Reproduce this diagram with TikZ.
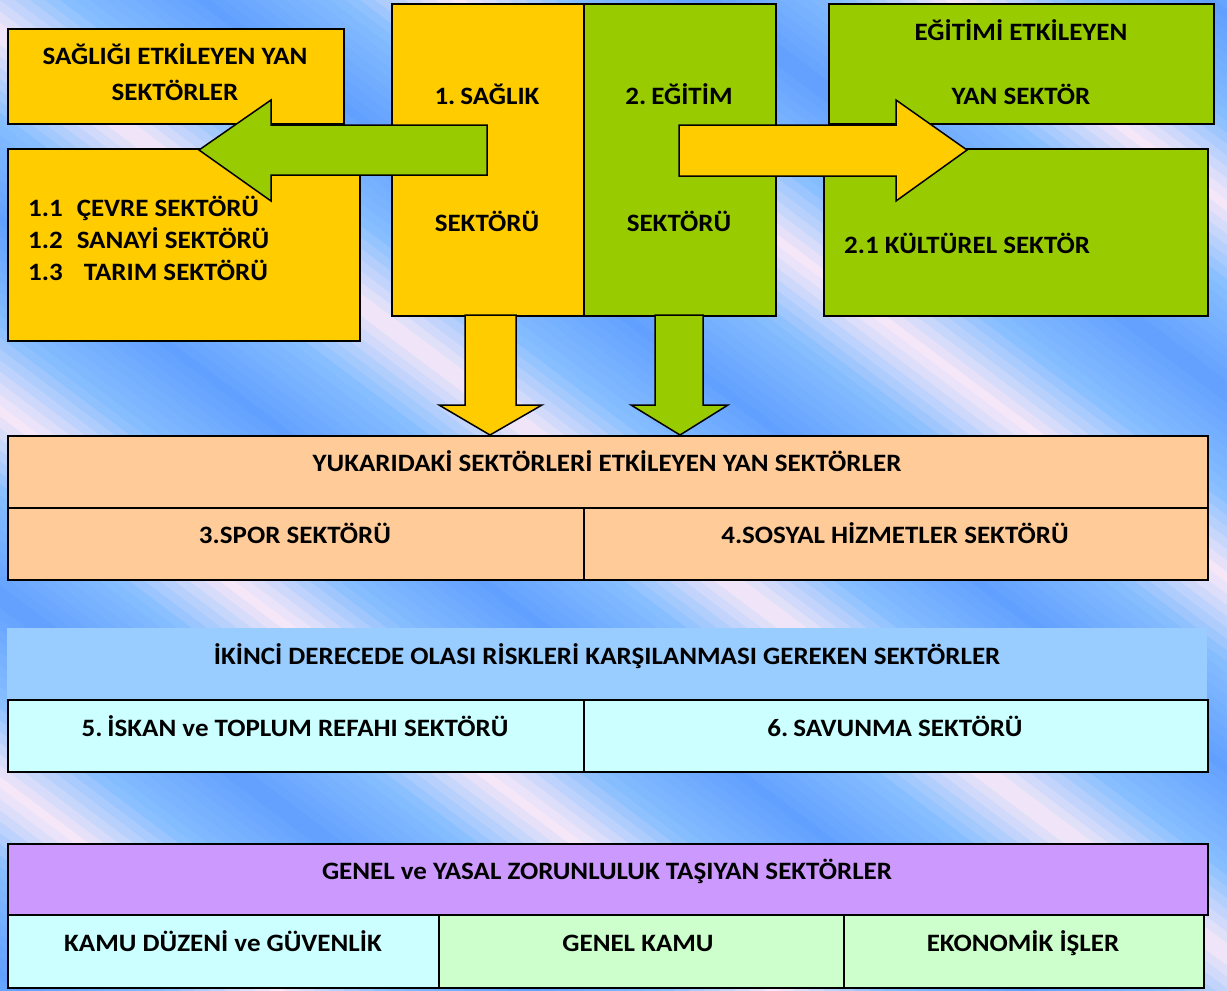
\documentclass[tikz,border=0pt]{standalone}
\usepackage{fontspec}
\setmainfont{Carlito}[FakeStretch=1.08]
\definecolor{yel}{HTML}{FFCC00}
\definecolor{grn}{HTML}{99CC00}
\definecolor{peach}{HTML}{FFCC99}
\definecolor{hdrblue}{HTML}{99CCFF}
\definecolor{cyanl}{HTML}{CCFFFF}
\definecolor{purp}{HTML}{CC99FF}
\definecolor{mint}{HTML}{CCFFCC}
\definecolor{bgpink}{HTML}{F8E8F8}
\definecolor{bglight}{HTML}{86BEFF}
\definecolor{bgblue}{HTML}{62A0FF}
\begin{document}
\begin{tikzpicture}[x=1pt,y=-1pt,
  box/.style={draw=black, line width=1.5pt, inner sep=0pt},
  plain/.style={inner sep=0pt, draw=none},
  lbl/.style={font=\bfseries\fontsize{25}{29}\selectfont, text=black, inner sep=0pt, anchor=base},
  lblw/.style={lbl, anchor=base west},
  blockarrow/.style={draw=black, line width=1.5pt, line join=miter}]
\useasboundingbox (0,0) rectangle (1227,991);
% ---------- background stripes ----------
\begin{scope}
\clip (0,0) rectangle (1227,991);
\foreach \k in {-92,...,83}{
  \pgfmathsetmacro\a{\k*15}
  \pgfmathsetmacro\ph{mod(\a+7.5-455+5000,500)/500}
  \pgfmathsetmacro\dd{2*min(\ph,1-\ph)}
  \pgfmathsetmacro\b{\a+16}
  \pgfmathsetmacro\c{\a+1321}
  \pgfmathsetmacro\d{\a+1337}
  \pgfmathtruncatemacro\isnear{\dd<0.45 ? 1 : 0}
  \ifnum\isnear=1
    \pgfmathtruncatemacro\p{100-\dd/0.45*100}
    \fill[bgpink!\p!bglight] (\a,0) -- (\b,0) -- (\d,991) -- (\c,991) -- cycle;
  \else
    \pgfmathtruncatemacro\p{(1-\dd)/0.55*100}
    \fill[bglight!\p!bgblue] (\a,0) -- (\b,0) -- (\d,991) -- (\c,991) -- cycle;
  \fi
}
\end{scope}
% ---------- top boxes ----------
\node[box, fill=yel, minimum width=192pt, minimum height=312pt, anchor=north west] (sag) at (391,3) {};
\node[box, fill=grn, minimum width=192pt, minimum height=312pt, anchor=north west] (egt) at (583,3) {};
\node[box, fill=yel, minimum width=336pt, minimum height=95pt, anchor=north west] (sagyan) at (7,28) {};
\node[box, fill=yel, minimum width=352pt, minimum height=192pt, anchor=north west] (sagsub) at (7,148) {};
\node[box, fill=grn, minimum width=385pt, minimum height=120pt, anchor=north west] (egtyan) at (828,3) {};
\node[box, fill=grn, minimum width=384pt, minimum height=167pt, anchor=north west] (kult) at (823,148) {};
% ---------- block arrows ----------
\draw[blockarrow, fill=grn] (487,125) -- (271,125) -- (271,100) -- (199,150) -- (271,201) -- (271,175) -- (487,175) -- cycle;
\draw[blockarrow, fill=yel] (679,125) -- (896,125) -- (896,100) -- (967,150) -- (896,201) -- (896,176) -- (679,176) -- cycle;
\draw[blockarrow, fill=yel] (465,315) -- (465,405) -- (439,405) -- (490,435) -- (542,405) -- (516,405) -- (516,315) -- cycle;
\draw[blockarrow, fill=grn] (655,315) -- (655,405) -- (631,405) -- (680,435) -- (728,405) -- (703,405) -- (703,315) -- cycle;
% ---------- peach table ----------
\node[box, fill=peach, minimum width=1200pt, minimum height=72pt, anchor=north west] (yuk) at (7,435) {};
\node[box, fill=peach, minimum width=576pt, minimum height=72pt, anchor=north west] (spor) at (7,507) {};
\node[box, fill=peach, minimum width=624pt, minimum height=72pt, anchor=north west] (sosyal) at (583,507) {};
% ---------- blue table ----------
\node[plain, fill=hdrblue, minimum width=1200pt, minimum height=71pt, anchor=north west] (ikinci) at (7,628) {};
\node[box, fill=cyanl, minimum width=576pt, minimum height=72pt, anchor=north west] (iskan) at (7,699) {};
\node[box, fill=cyanl, minimum width=624pt, minimum height=72pt, anchor=north west] (savunma) at (583,699) {};
% ---------- purple table ----------
\node[box, fill=purp, minimum width=1200pt, minimum height=71pt, anchor=north west] (genel) at (7,843) {};
\node[box, fill=cyanl, minimum width=431pt, minimum height=73pt, anchor=north west] (kamu) at (7,914) {};
\node[box, fill=mint, minimum width=405pt, minimum height=73pt, anchor=north west] (gkamu) at (438,914) {};
\node[box, fill=mint, minimum width=360pt, minimum height=73pt, anchor=north west] (ekon) at (843,914) {};
% ---------- labels ----------
\node[lbl] (t1) at (175,64) {SAĞLIĞI ETKİLEYEN YAN};
\node[lbl] (t2) at (175,100) {SEKTÖRLER};
\node[lblw] (t3) at (28,216) {1.1\hspace{14pt}ÇEVRE SEKTÖRÜ};
\node[lblw] (t4) at (28,248) {1.2\hspace{14pt}SANAYİ SEKTÖRÜ};
\node[lblw] (t5) at (28,280) {1.3\hspace{21pt}TARIM SEKTÖRÜ};
\node[lbl] (t6) at (487,104) {1.\hspace{5pt}SAĞLIK};
\node[lbl] (t7) at (487,231) {SEKTÖRÜ};
\node[lbl] (t8) at (679,104) {2.\hspace{5pt}EĞİTİM};
\node[lbl] (t9) at (679,231) {SEKTÖRÜ};
\node[lbl] (t10) at (1021,40) {EĞİTİMİ ETKİLEYEN};
\node[lbl] (t11) at (1021,104) {YAN SEKTÖR};
\node[lblw] (t12) at (844,253) {2.1 KÜLTÜREL SEKTÖR};
\node[lbl] (t13) at (607,471) {YUKARIDAKİ SEKTÖRLERİ ETKİLEYEN YAN SEKTÖRLER};
\node[lbl] (t14) at (295,543) {3.SPOR SEKTÖRÜ};
\node[lbl] (t15) at (895,543) {4.SOSYAL HİZMETLER SEKTÖRÜ};
\node[lbl] (t16) at (607,664) {İKİNCİ DERECEDE OLASI RİSKLERİ KARŞILANMASI GEREKEN SEKTÖRLER};
\node[lbl] (t17) at (295,736) {5.\hspace{5pt}İSKAN ve TOPLUM REFAHI SEKTÖRÜ};
\node[lbl] (t18) at (895,736) {6.\hspace{5pt}SAVUNMA SEKTÖRÜ};
\node[lbl] (t19) at (607,879) {GENEL ve YASAL ZORUNLULUK TAŞIYAN SEKTÖRLER};
\node[lbl] (t20) at (223,951) {KAMU DÜZENİ ve GÜVENLİK};
\node[lbl] (t21) at (638,951) {GENEL KAMU};
\node[lbl] (t22) at (1023,951) {EKONOMİK İŞLER};
\end{tikzpicture}
\end{document}
